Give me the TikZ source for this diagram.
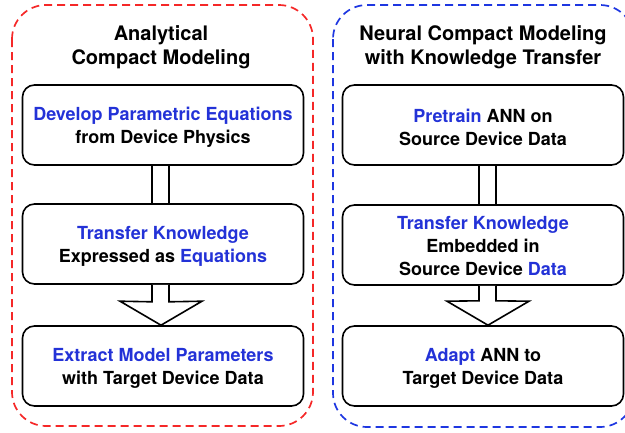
\documentclass[tikz,border=0pt]{standalone}
\usepackage{fontspec}
\setmainfont{TeX Gyre Heros}
\usetikzlibrary{calc}
\definecolor{kwblue}{RGB}{35,50,215}
\definecolor{framered}{RGB}{245,40,40}
\definecolor{frameblue}{RGB}{30,55,225}
\newcommand{\kw}[1]{\textcolor{kwblue}{#1}}
\begin{document}
\begin{tikzpicture}[x=1pt,y=-1pt,
  stepbox/.style={draw, line width=1.6pt, rounded corners=12pt,
    minimum width=281pt, minimum height=80pt, align=center, inner sep=0pt,
    font=\bfseries\fontsize{18}{23}\selectfont},
  steptext/.style={align=center, inner sep=0pt, font=\bfseries\fontsize{18}{23}\selectfont},
  titletext/.style={align=center, font=\bfseries\fontsize{20}{24}\selectfont},
  frame/.style={dash pattern=on 8pt off 5pt, line width=1.7pt, rounded corners=34pt},
  connector/.style={line width=1.6pt, line join=miter},
  blockarrow/.style={line width=1.6pt, fill=white, line join=miter}]
\useasboundingbox (0,0) rectangle (625,432);

% outer frames of the two approaches
\draw[frame, framered] (12,5) rectangle (313,426);
\draw[frame, frameblue] (333,5) rectangle (634,427);

% titles
\node[titletext] (tl) at (161,47) {Analytical\\Compact Modeling};
\node[titletext] (tr) at (483,47) {Neural Compact Modeling\\with Knowledge Transfer};

% left column: analytical flow
\node[stepbox] (a1) at (163,125) {};
\node[stepbox] (a2) at (163,244) {};
\node[stepbox] (a3) at (163,366) {};
\node[steptext] (ta1) at ($(a1)+(0,2)$) {\kw{Develop Parametric Equations}\\from Device Physics};
\node[steptext] (ta2) at ($(a2)+(0,2)$) {\kw{Transfer Knowledge}\\Expressed as \kw{Equations}};
\node[steptext] (ta3) at ($(a3)+(0,2)$) {\kw{Extract Model Parameters}\\with Target Device Data};

% right column: neural flow
\node[stepbox] (b1) at (483,125) {};
\node[stepbox] (b2) at (483,245) {};
\node[stepbox] (b3) at (483,366) {};
\node[steptext] (tb1) at ($(b1)+(0,2)$) {\kw{Pretrain} ANN on\\Source Device Data};
\node[steptext] (tb2) at ($(b2)+(0,1)$) {\kw{Transfer Knowledge}\\Embedded in\\Source Device \kw{Data}};
\node[steptext] (tb3) at ($(b3)+(0,2)$) {\kw{Adapt} ANN to\\Target Device Data};

% narrow links between first and second steps
\draw[connector] ($(a1.south)+(-11,0)$) -- ($(a2.north)+(-11,0)$);
\draw[connector] ($(a1.south)+(6,0)$) -- ($(a2.north)+(6,0)$);
\draw[connector] ($(b1.south)+(-4,0)$) -- ($(b2.north)+(-4,0)$);
\draw[connector] ($(b1.south)+(13,0)$) -- ($(b2.north)+(13,0)$);

% block arrows into the last steps
\draw[blockarrow] ($(a2.south)+(-11,0)$) -- ($(a2.south)+(-11,17)$) -- ($(a3.north)+(-43,-24)$)
  -- ($(a3.north)+(-2,0)$) -- ($(a3.north)+(39,-24)$) -- ($(a2.south)+(6,17)$) -- ($(a2.south)+(6,0)$);
\draw[blockarrow] ($(b2.south)+(-4,0)$) -- ($(b2.south)+(-4,15)$) -- ($(b3.north)+(-36,-24)$)
  -- ($(b3.north)+(5,0)$) -- ($(b3.north)+(46,-24)$) -- ($(b2.south)+(13,15)$) -- ($(b2.south)+(13,0)$);
\end{tikzpicture}
\end{document}
